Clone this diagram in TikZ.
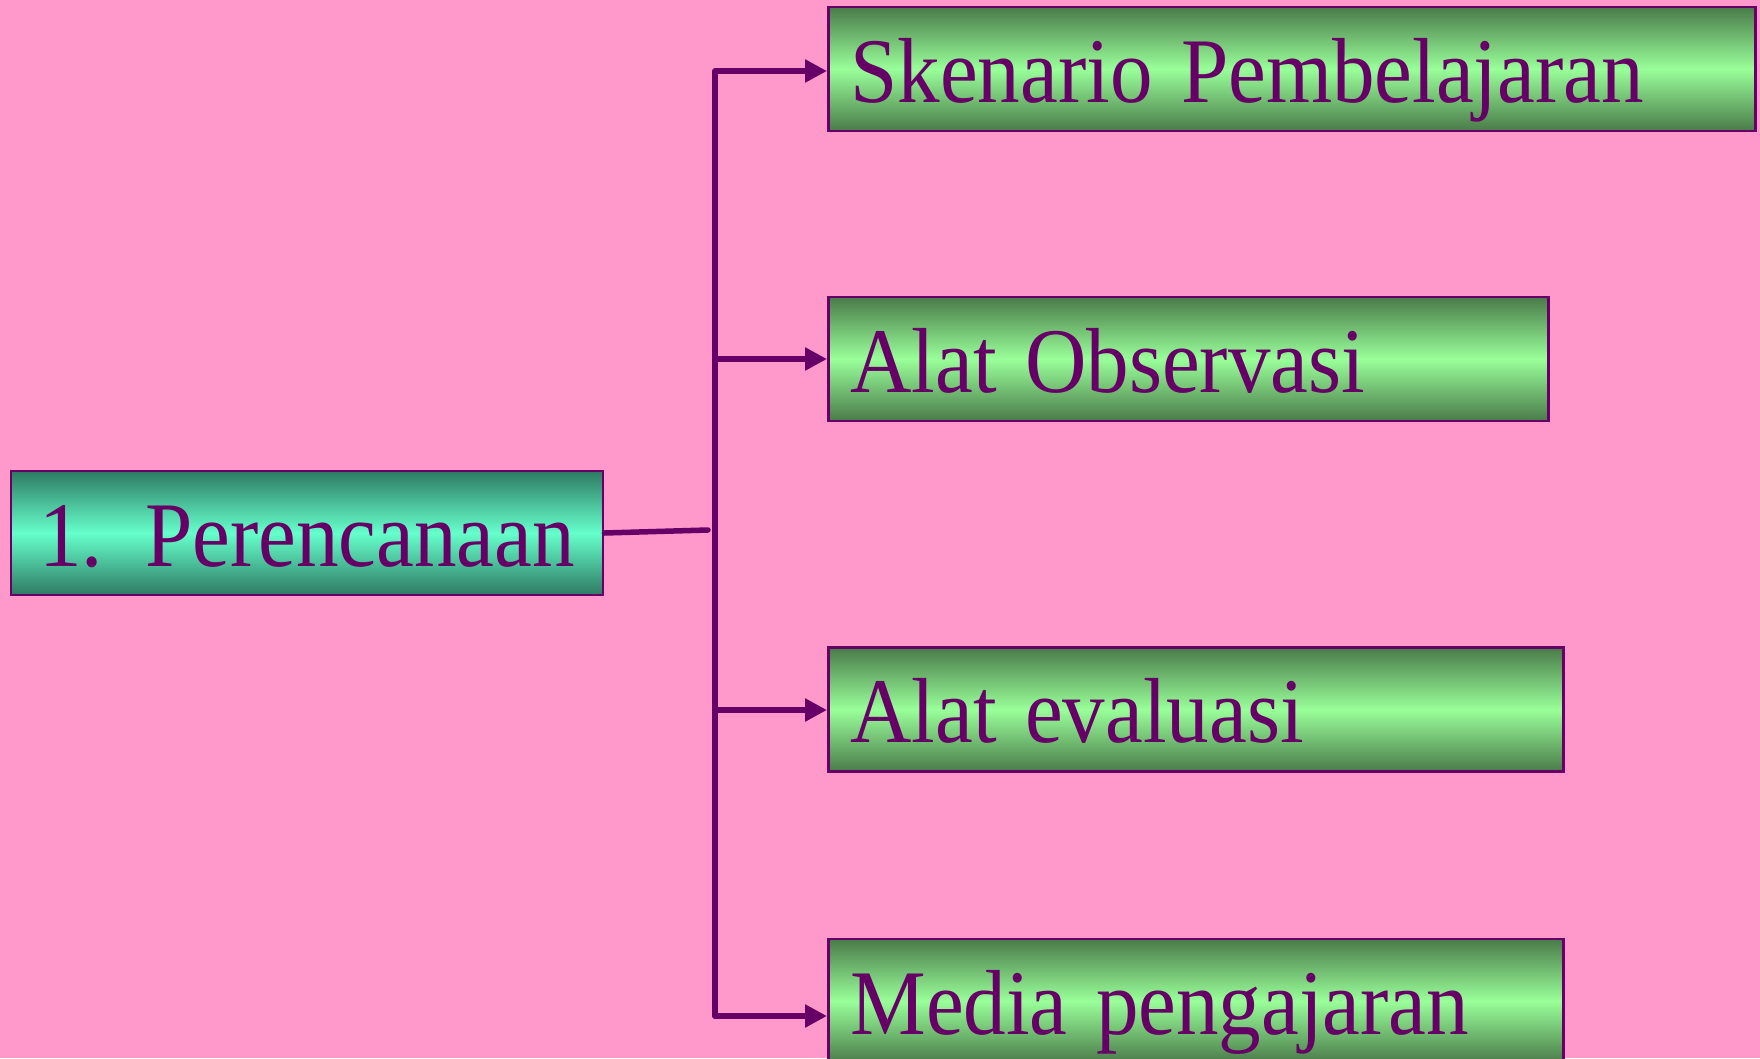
\documentclass[tikz,border=0pt]{standalone}
\usepackage{fontspec}
\usepackage{graphicx}
\setmainfont{Liberation Serif}
\usetikzlibrary{arrows.meta}
\definecolor{bgpink}{HTML}{FF99CC}
\definecolor{ink}{HTML}{660066}
\definecolor{tealdark}{HTML}{2E7A62}
\definecolor{teallight}{HTML}{66FFCC}
\definecolor{greendark}{HTML}{4A7A4A}
\definecolor{greenlight}{HTML}{99FF99}
\newcommand{\boxfont}{\fontsize{26.3}{28}\selectfont}
\newcommand{\narrow}[1]{\scalebox{0.92}[1]{#1}}
\begin{document}
\begin{tikzpicture}[
    >={Triangle[length=0.22cm,width=0.22cm]},
    box/.style={draw=ink, line width=0.8pt, text=ink, minimum height=1.24cm,
      text height=0.8cm, text depth=0.14cm, inner xsep=0.22cm, font=\boxfont},
    mainbox/.style={box, top color=tealdark, bottom color=tealdark, middle color=teallight, align=center},
    subbox/.style={box, top color=greendark, bottom color=greendark, middle color=greenlight, anchor=west, align=left},
    link/.style={draw=ink, line width=0.055cm, line cap=round, line join=round}]

    \fill[bgpink] (0,0) rectangle (17.6,10.58);
    \useasboundingbox (0,0) rectangle (17.6,10.58);

    \node[mainbox, text width=5.48cm] (a1) at (3.07,5.25) {\narrow{1. Perencanaan}};

    \node[subbox, text width=8.83cm] (b1) at (8.27,9.89) {\narrow{Skenario Pembelajaran}};
    \node[subbox, text width=6.76cm] (b2) at (8.27,6.99) {\narrow{Alat Observasi}};
    \node[subbox, text width=6.91cm] (b3) at (8.27,3.485) {\narrow{Alat evaluasi}};
    \node[subbox, text width=6.91cm] (b4) at (8.27,0.57) {\narrow{Media pengajaran}};

    % trunk
    \coordinate (v1) at (7.15,9.87);
    \coordinate (v2) at (7.15,6.99);
    \coordinate (v3) at (7.15,3.48);
    \coordinate (v4) at (7.15,0.42);
    \coordinate (c1) at (7.08,5.28);

    \draw[link] (a1.east) to (c1);

    \draw[link,->] (v4) -- (v1) -- (v1 -| b1.west);
    \draw[link,->] (v2) -- (v2 -| b2.west);
    \draw[link,->] (v3) -- (v3 -| b3.west);
    \draw[link,->] (v4) -- (v4 -| b4.west);

\end{tikzpicture}
\end{document}
